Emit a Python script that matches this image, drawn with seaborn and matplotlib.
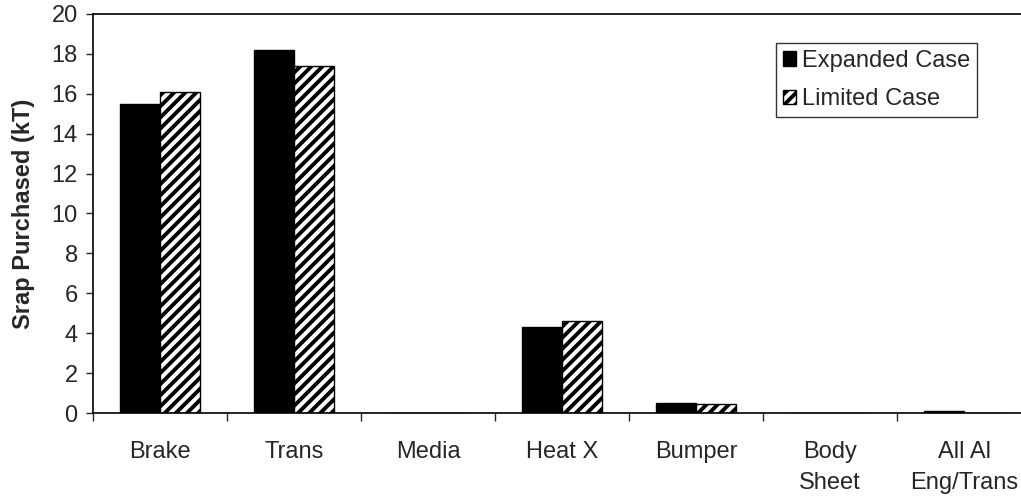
import matplotlib
matplotlib.use("Agg")
import matplotlib.pyplot as plt
import seaborn as sns
import pandas as pd
import numpy as np
from matplotlib.patches import Patch

categories = ["Brake", "Trans", "Media", "Heat X", "Bumper", "Body\nSheet", "All Al\nEng/Trans"]
expanded = [15.5, 18.2, 0.0, 4.3, 0.5, 0.0, 0.1]
limited = [16.1, 17.4, 0.0, 4.6, 0.45, 0.0, 0.0]
series = ["Expanded Case", "Limited Case"]
yticks = [0, 2, 4, 6, 8, 10, 12, 14, 16, 18, 20]

df = pd.DataFrame({
    "category": categories * 2,
    "value": expanded + limited,
    "case": [series[0]] * len(categories) + [series[1]] * len(categories),
})

sns.set_style("white")
plt.rcParams["font.family"] = ["Liberation Sans", "DejaVu Sans"]
plt.rcParams["hatch.linewidth"] = 2.8
plt.rcParams["hatch.color"] = "black"

fig = plt.figure(figsize=(10.21, 5.0), dpi=100)
ax = fig.add_axes([0.0911, 0.174, 0.9187, 0.798])

sns.barplot(data=df, x="category", y="value", hue="case", order=categories,
            hue_order=series, palette=["black", "white"], width=0.59,
            edgecolor="black", linewidth=1.0, saturation=1, ax=ax, legend=False)

for bar in ax.containers[1]:
    bar.set_hatch("///")

ax.set_ylim(0, 20)
ax.set_xlim(-0.5, len(categories) - 0.5)
ax.set_yticks(yticks)
ax.tick_params(axis="y", labelsize=17, length=5, width=1, direction="out", left=True, pad=6)
ax.set_xticks(range(len(categories)))
ax.set_xticklabels(categories, fontsize=17, linespacing=1.52)
ax.tick_params(axis="x", length=0, pad=20)
ax.set_xticks(np.arange(len(categories) + 1) - 0.5, minor=True)
ax.tick_params(axis="x", which="minor", length=6, width=1, bottom=True, direction="out")
ax.set_xlabel("")
ax.set_ylabel("Srap Purchased (kT)", fontsize=17, fontweight="bold", labelpad=12)

for s in ["left", "bottom", "top"]:
    ax.spines[s].set_visible(True)
    ax.spines[s].set_color("black")
    ax.spines[s].set_linewidth(1.2)
ax.spines["right"].set_visible(False)

handles = [Patch(facecolor="black", edgecolor="black", label=series[0]),
           Patch(facecolor="white", edgecolor="black", hatch="///", label=series[1])]
leg = ax.legend(handles=handles, loc="upper left", bbox_to_anchor=(0.728, 0.928),
                fontsize=17, frameon=True, fancybox=False, edgecolor="black",
                handlelength=0.55, handleheight=0.55, handletextpad=0.25,
                borderpad=0.3, labelspacing=0.7, borderaxespad=0)
leg.get_frame().set_linewidth(1.0)

fig.savefig("out.png", dpi=100)
